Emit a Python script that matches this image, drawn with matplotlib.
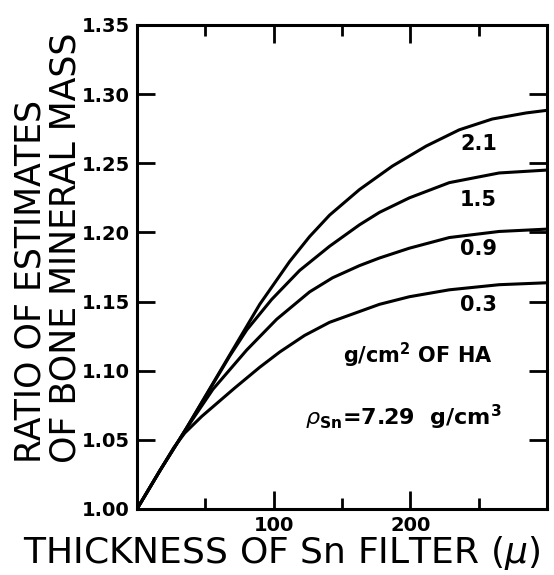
import matplotlib
matplotlib.use("Agg")
import matplotlib.pyplot as plt

# thickness of Sn filter (microns) and ratio of estimates
# one curve per g/cm^2 of HA
x_21 = [0, 16.8, 35.0, 67.9, 89.8, 111.7, 126.3, 140.9, 162.8, 186.9, 211.7, 235.8, 259.9, 284.7, 300]
y_21 = [1.000, 1.0278, 1.0565, 1.1115, 1.1480, 1.1790, 1.1970, 1.2125, 1.2310, 1.2480,
        1.2625, 1.2742, 1.2820, 1.2864, 1.2883]

x_15 = [0, 16.8, 35.0, 67.9, 80.3, 98.5, 119.0, 140.9, 162.8, 177.4, 199.3, 228.5, 265.0, 300]
y_15 = [1.000, 1.0278, 1.0565, 1.1107, 1.1295, 1.1515, 1.1725, 1.1900, 1.2055, 1.2145,
        1.2250, 1.2360, 1.2430, 1.2451]

x_09 = [0, 16.8, 35.0, 55.5, 80.3, 102.2, 126.3, 143.1, 162.8, 177.4, 199.3, 228.5, 265.0, 300]
y_09 = [1.000, 1.0278, 1.0565, 1.0865, 1.1150, 1.1372, 1.1570, 1.1672, 1.1760, 1.1815,
        1.1886, 1.1963, 1.2007, 1.2024]

x_03 = [0, 16.8, 27.0, 35.0, 47.4, 71.5, 89.8, 104.4, 122.6, 140.9, 177.4, 199.3, 228.5, 265.0, 300]
y_03 = [1.000, 1.0278, 1.0445, 1.0550, 1.0670, 1.0875, 1.1025, 1.1135, 1.1255, 1.1350,
        1.1480, 1.1535, 1.1585, 1.1622, 1.1636]

curve_labels = ["2.1", "1.5", "0.9", "0.3"]
label_y = [1.264, 1.2235, 1.188, 1.1475]

y_ticks = [1.00, 1.05, 1.10, 1.15, 1.20, 1.25, 1.30, 1.35]
x_major = [100, 200]
x_minor = [50, 150, 250]

fig = plt.figure(figsize=(5.54, 5.75), dpi=100)
ax = fig.add_axes([137 / 554, 1 - 509 / 575, 410 / 554, 484 / 575])

for xs, ys in [(x_21, y_21), (x_15, y_15), (x_09, y_09), (x_03, y_03)]:
    ax.plot(xs, ys, color="black", lw=2.2, solid_joinstyle="round")

for lab, ly in zip(curve_labels, label_y):
    ax.text(250, ly, lab, fontsize=15, fontweight="bold", ha="center", va="center")

ax.text(151, 1.1057, r"g/cm$^\mathbf{2}$ OF HA", fontsize=15, fontweight="bold",
        ha="left", va="baseline")
ax.text(123, 1.0603, r"$\rho_{\mathbf{Sn}}$=7.29  g/cm$^\mathbf{3}$", fontsize=16,
        fontweight="bold", ha="left", va="baseline")

ax.set_xlim(0, 300)
ax.set_ylim(1.00, 1.35)
ax.set_xticks(x_major)
ax.set_xticks(x_minor, minor=True)
ax.set_yticks(y_ticks)
ax.set_yticklabels([f"{v:.2f}" for v in y_ticks])
for lbl in ax.get_xticklabels() + ax.get_yticklabels():
    lbl.set_fontweight("bold")

ax.tick_params(which="both", direction="in", top=True, right=True,
               width=2, labelsize=14, color="black")
ax.tick_params(which="major", length=13, pad=5)
ax.tick_params(which="minor", length=8)
for sp in ax.spines.values():
    sp.set_linewidth(2.2)

fig.text(31 / 554, 1 - 463 / 575, "RATIO OF ESTIMATES", rotation=90,
         fontsize=25, ha="center", va="bottom")
fig.text(66 / 554, 1 - 463 / 575, "OF BONE MINERAL MASS", rotation=90,
         fontsize=25, ha="center", va="bottom")
fig.text(282 / 554, 1 - 563 / 575, r"THICKNESS OF Sn FILTER ($\mu$)",
         fontsize=26, ha="center", va="baseline")

fig.savefig("out.png", dpi=100)
